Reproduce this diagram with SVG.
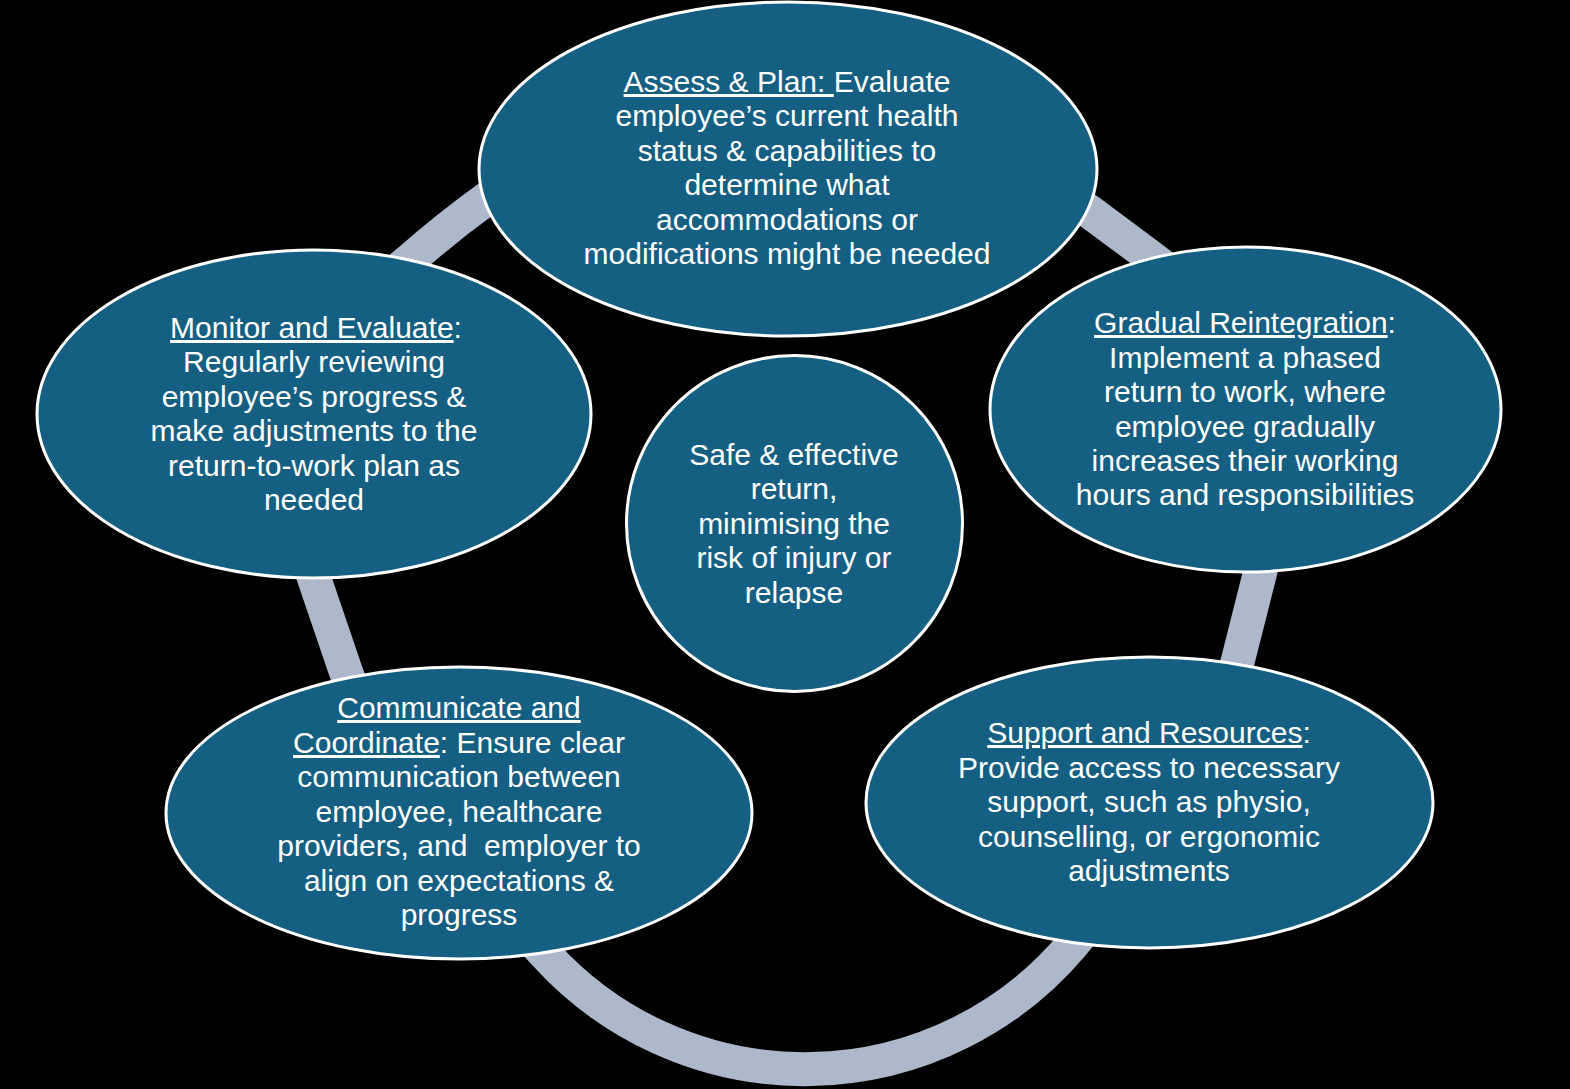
<svg xmlns="http://www.w3.org/2000/svg" width="1570" height="1089" viewBox="0 0 1570 1089">
<style>
.node{fill:#156082;stroke:#ffffff;stroke-width:3}
.t{font-family:"Liberation Sans",Arial,sans-serif;font-size:30px;fill:#ffffff;text-anchor:middle}
.u{text-decoration:underline}
.ring{fill:none;stroke:#ADB9CA;stroke-width:34}
</style>
<rect x="0" y="0" width="1570" height="1089" fill="#000000"/>
<g id="connectors">
<path class="ring" d="M485,200 C460,218 435,238 410,260 C309,341 272,454 314,578 L346,672 C385,787 464,867 546,955 A350,350 0 0 0 1072,945 C1146,856 1210,772 1238,660 L1260,573 C1292,447 1256,336 1152,258 L1090,212 C930,92 641,76 485,200 Z"/>
</g>
<g id="node-assess">
<ellipse class="node" cx="788" cy="169" rx="309" ry="167"/>
<text class="t" xml:space="preserve"><tspan x="787" y="92"><tspan class="u">Assess &amp; Plan: </tspan>Evaluate</tspan></text>
<text class="t"><tspan x="787" y="126">employee’s current health</tspan><tspan x="787" y="161">status &amp; capabilities to</tspan><tspan x="787" y="195">determine what</tspan><tspan x="787" y="230">accommodations or</tspan><tspan x="787" y="264">modifications might be needed</tspan></text>
</g>
<g id="node-monitor">
<ellipse class="node" cx="314" cy="414" rx="277" ry="164"/>
<text class="t"><tspan x="316" y="338"><tspan class="u">Monitor and Evaluate</tspan>:</tspan><tspan x="314" y="372">Regularly reviewing</tspan><tspan x="314" y="407">employee’s progress &amp;</tspan><tspan x="314" y="441">make adjustments to the</tspan><tspan x="314" y="476">return-to-work plan as</tspan><tspan x="314" y="510">needed</tspan></text>
</g>
<g id="node-center">
<circle class="node" cx="794.5" cy="523.5" r="168"/>
<text class="t"><tspan x="794" y="465">Safe &amp; effective</tspan><tspan x="794" y="499">return,</tspan><tspan x="794" y="534">minimising the</tspan><tspan x="794" y="568">risk of injury or</tspan><tspan x="794" y="603">relapse</tspan></text>
</g>
<g id="node-gradual">
<ellipse class="node" cx="1245.5" cy="409.5" rx="255.5" ry="162.5"/>
<text class="t"><tspan x="1245" y="333"><tspan class="u">Gradual Reintegration</tspan>:</tspan><tspan x="1245" y="368">Implement a phased</tspan><tspan x="1245" y="402">return to work, where</tspan><tspan x="1245" y="437">employee gradually</tspan><tspan x="1245" y="471">increases their working</tspan><tspan x="1245" y="505">hours and responsibilities</tspan></text>
</g>
<g id="node-communicate">
<ellipse class="node" cx="459" cy="813" rx="293" ry="146"/>
<text class="t" xml:space="preserve"><tspan x="459" y="718" class="u">Communicate and</tspan><tspan x="459" y="753"><tspan class="u">Coordinate</tspan>: Ensure clear</tspan><tspan x="459" y="787">communication between</tspan><tspan x="459" y="822">employee, healthcare</tspan><tspan x="459" y="856">providers, and  employer to</tspan><tspan x="459" y="891">align on expectations &amp;</tspan><tspan x="459" y="925">progress</tspan></text>
</g>
<g id="node-support">
<ellipse class="node" cx="1149.5" cy="802.5" rx="283.5" ry="145.5"/>
<text class="t"><tspan x="1149" y="743"><tspan class="u">Support and Resources</tspan>:</tspan><tspan x="1149" y="778">Provide access to necessary</tspan><tspan x="1149" y="812">support, such as physio,</tspan><tspan x="1149" y="847">counselling, or ergonomic</tspan><tspan x="1149" y="881">adjustments</tspan></text>
</g>
</svg>
